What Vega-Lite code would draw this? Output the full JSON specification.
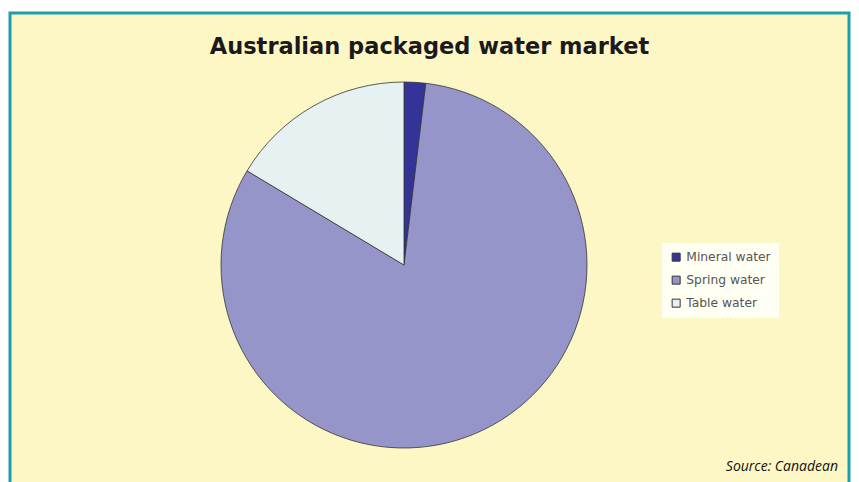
{
  "$schema": "https://vega.github.io/schema/vega-lite/v6.json",
  "autosize": "none",
  "width": 839,
  "height": 504,
  "padding": {"left": 10, "top": 13, "right": 10, "bottom": 0},
  "background": "white",
  "view": {"fill": "#FDF7C6", "stroke": "#1E9DAA", "strokeWidth": 3},
  "title": {
    "text": "Australian packaged water market",
    "font": "DejaVu Sans",
    "fontWeight": "bold",
    "fontSize": 22.5,
    "color": "#1A1A1A",
    "anchor": "middle",
    "frame": "group",
    "offset": -45
  },
  "layer": [
    {
      "data": {
        "values": [
          {"type": "Mineral water", "share": 1.9},
          {"type": "Spring water", "share": 81.7},
          {"type": "Table water", "share": 16.4}
        ]
      },
      "mark": {
        "type": "arc",
        "outerRadius": 183,
        "x": {"expr": "width/2 - 25.5"},
        "stroke": "#333333",
        "strokeWidth": 0.8
      },
      "encoding": {
        "theta": {"field": "share", "type": "quantitative", "stack": true},
        "order": {"field": "type", "type": "nominal"},
        "color": {
          "field": "type",
          "type": "nominal",
          "scale": {
            "domain": ["Mineral water", "Spring water", "Table water"],
            "range": ["#333399", "#9595C9", "#E5F2F1"]
          },
          "legend": {
            "title": null,
            "orient": "none",
            "legendX": 652,
            "legendY": 230,
            "fillColor": "#FFFFF4",
            "padding": 8,
            "symbolType": "square",
            "symbolSize": 64,
            "symbolStrokeColor": "#333333",
            "symbolStrokeWidth": 1,
            "labelFont": "DejaVu Sans",
            "labelFontSize": 12.3,
            "labelColor": "#555555",
            "rowPadding": 10
          }
        }
      }
    },
    {
      "data": {"values": [{"source": "Source: Canadean"}]},
      "mark": {
        "type": "text",
        "x": {"expr": "width - 11"},
        "y": {"expr": "height - 46"},
        "align": "right",
        "baseline": "alphabetic",
        "font": "Open Sans",
        "fontStyle": "italic",
        "fontSize": 14,
        "color": "#111111"
      },
      "encoding": {"text": {"field": "source", "type": "nominal"}}
    }
  ]
}
